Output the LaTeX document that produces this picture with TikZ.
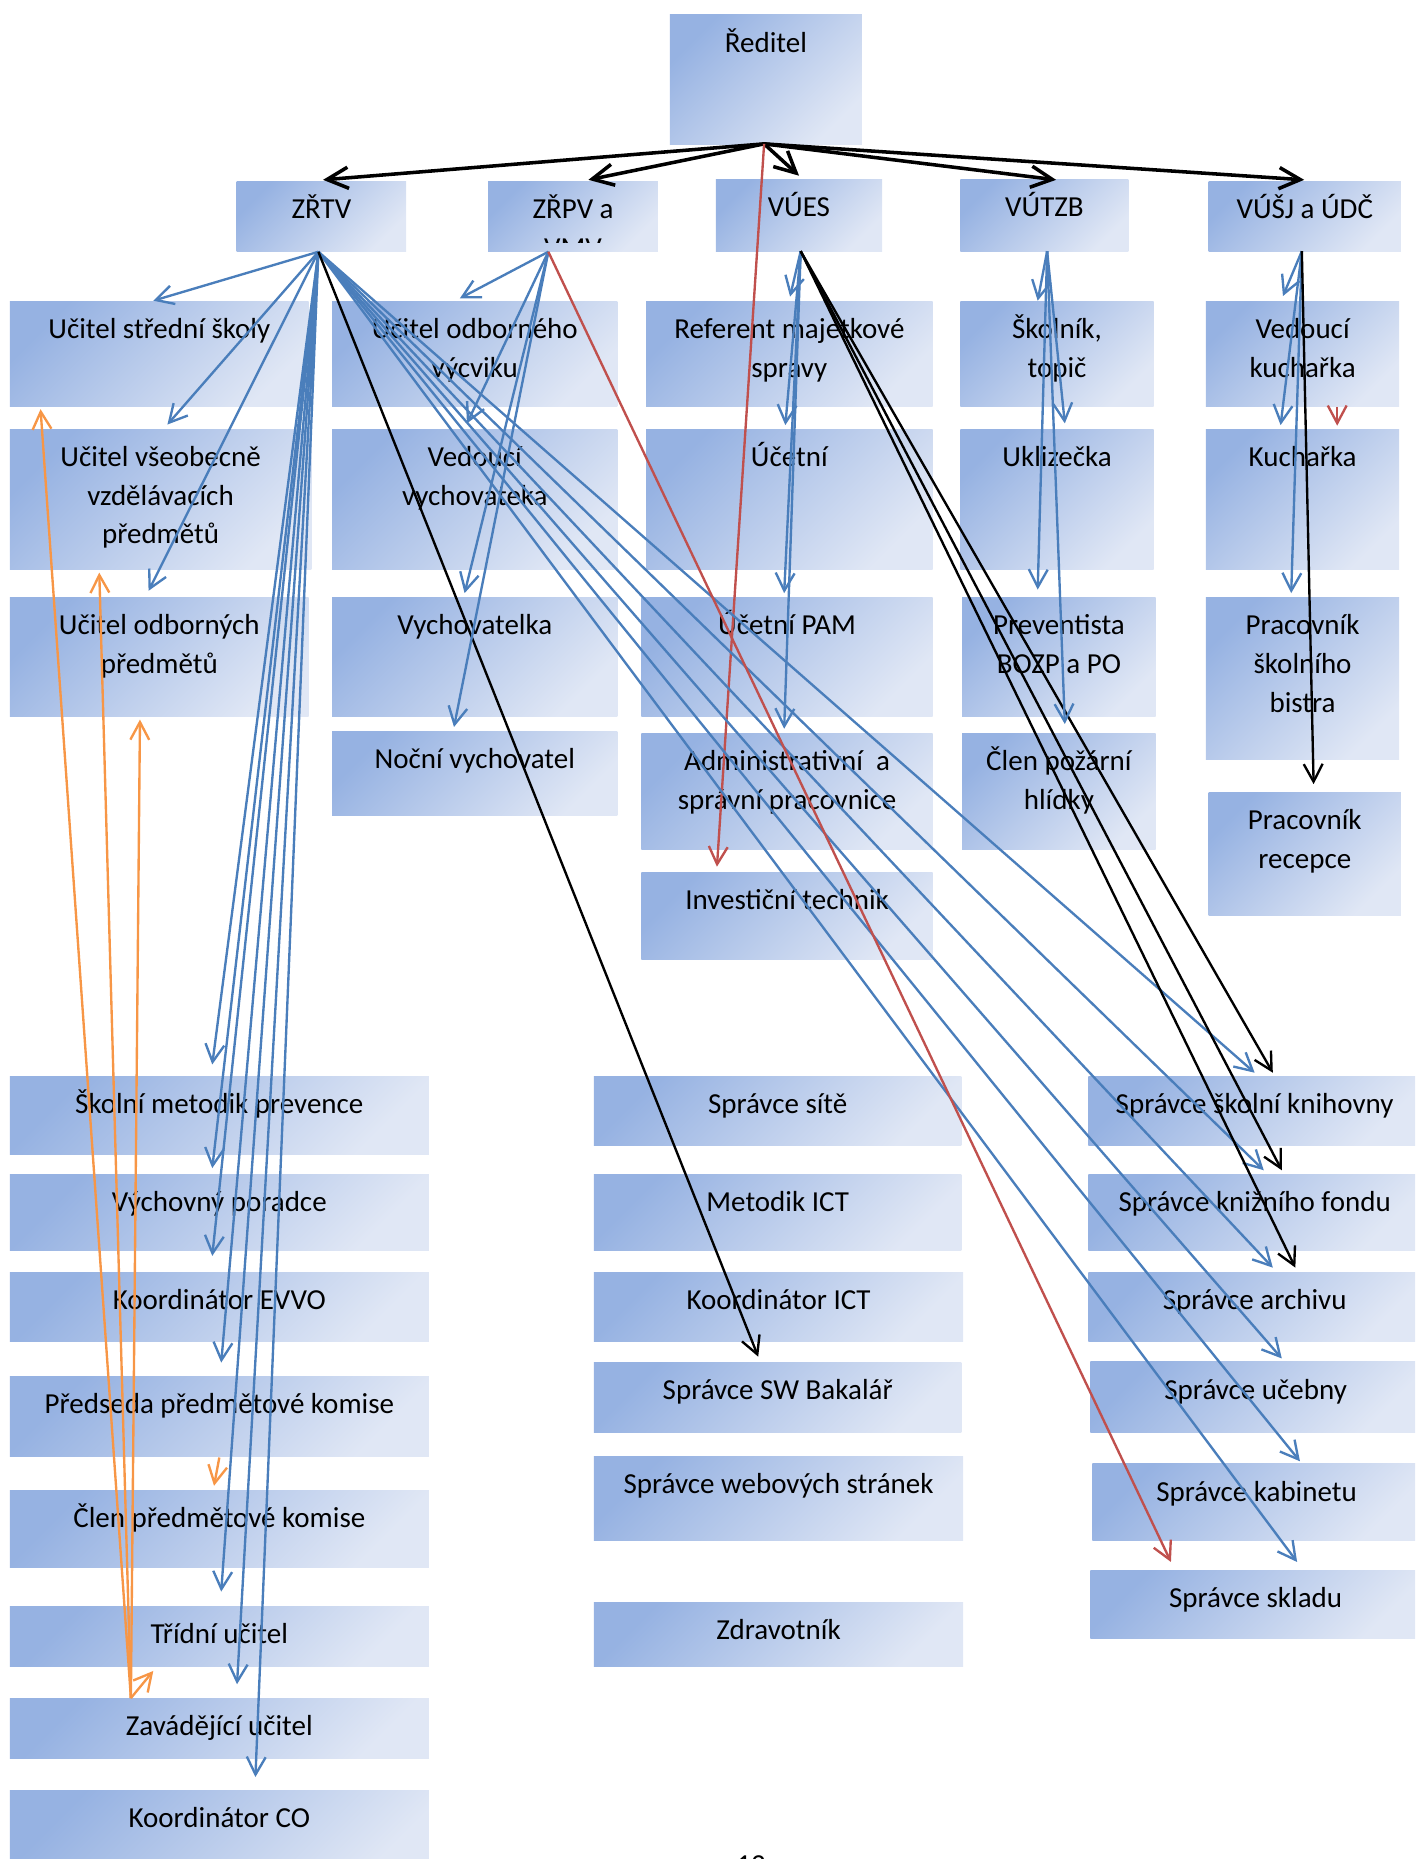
\documentclass[tikz,border=0pt]{standalone}
\usepackage{fontspec}
\setmainfont{Carlito}
\usetikzlibrary{arrows.meta,calc}
\definecolor{bxA}{RGB}{150,178,226}
\definecolor{bxB}{RGB}{224,231,245}
\definecolor{lnB}{RGB}{74,126,187}
\definecolor{lnR}{RGB}{192,80,77}
\definecolor{lnO}{RGB}{247,150,70}
\newcommand{\lblfont}{\fontsize{12.3pt}{16.5pt}\selectfont}
\tikzset{
  orgbox/.style={draw=none, inner sep=0pt, outer sep=0pt, top color=bxA, bottom color=bxB, shading angle=45, anchor=north west},
  orgtxt/.style={inner sep=0pt, outer sep=0pt, align=center, font=\lblfont, anchor=north},
  tipS/.style={-{Straight Barb[length=7.5pt,width=8pt]}},
  tipL/.style={-{Straight Barb[length=9pt,width=9pt]}},
  lnblue/.style={draw=lnB, line width=1pt, tipS},
  lnred/.style={draw=lnR, line width=1pt, tipS},
  lnorange/.style={draw=lnO, line width=1pt, tipS},
  lnblack/.style={draw=black, line width=1pt, tipS},
  lnblackthick/.style={draw=black, line width=1.5pt, tipL},
}
\newcommand{\obox}[6]{%
  \node[orgbox, minimum width={(#4-#2)*0.5pt}, minimum height={(#5-#3)*0.5pt}] (#1) at (#2,#3) {};
  \node[orgtxt] (#1-t) at ($(#1.north)+(0,8.4)$) {\strut #6};
}
\begin{document}
\begin{tikzpicture}[x=0.5pt,y=-0.5pt]
\clip (0,0) rectangle (1200,1576.5);
% top
\obox{dir}{568}{12.7}{731}{122.7}{Ředitel}
\obox{zrtv}{200.6}{153.6}{344.5}{213.3}{ZŘTV}
\node[orgbox, minimum width={(558-414)*0.5pt}, minimum height={(213.3-153.6)*0.5pt}] (zrpv) at (414,153.6) {};
\begin{scope}
  \clip (414,153.6) rectangle (558,205.5);
  \node[orgtxt] (zrpv-t) at ($(zrpv.north)+(0,8.4)$) {\strut ZŘPV a\\VMV};
\end{scope}
\obox{vues}{607}{152}{748}{213.3}{VÚES}
\obox{vutzb}{814.5}{152}{957}{213.3}{VÚTZB}
\obox{vusj}{1025}{153.6}{1188}{213.3}{VÚŠJ a ÚDČ}
% row 2
\obox{ucss}{8.4}{255.5}{261.8}{344.4}{Učitel střední školy}
\obox{ucov}{281.7}{255.5}{523.6}{344.4}{Učitel odborného\\výcviku}
\obox{ref}{548}{255.5}{790.8}{344.4}{Referent majetkové\\spravy}
\obox{skol}{814.5}{255.5}{978.3}{344.4}{Školník,\\topič}
\obox{vedk}{1022.7}{255.5}{1186.6}{344.4}{Vedoucí\\kuchařka}
% row 3
\obox{ucvv}{8.4}{363.8}{264}{483.2}{Učitel všeobecně\\vzdělávacích\\předmětů}
\obox{vedv}{281.7}{363.8}{523.6}{483.2}{Vedoucí\\vychovateka}
\obox{uce}{548}{363.8}{790.8}{483.2}{Účetní}
\obox{ukl}{814.5}{363.8}{978.3}{483.2}{Uklizečka}
\obox{kuch}{1022.7}{363.8}{1186.6}{483.2}{Kuchařka}
% row 4
\obox{ucop}{8.4}{506.4}{261.8}{607.4}{Učitel odborných\\předmětů}
\obox{vych}{281.7}{506.4}{523.6}{607.4}{Vychovatelka}
\obox{pam}{544}{506.4}{791}{607.4}{Účetní PAM}
\obox{prev}{816}{506.4}{980}{607.4}{Preventista\\BOZP a PO}
\obox{bist}{1022.7}{506.4}{1186.6}{644}{Pracovník\\školního\\bistra}
% row 5
\obox{nocni}{281.7}{620}{523.6}{691.4}{Noční vychovatel}
\obox{adm}{544}{621.8}{791}{720.2}{Administrativní\ \ a\\správní pracovnice}
\obox{clpo}{816}{621.8}{980}{720.2}{Člen požární\\hlídky}
\obox{rec}{1025}{671.7}{1188}{776}{Pracovník\\recepce}
\obox{inv}{544}{739.6}{791}{813.4}{Investiční technik}
% left column
\obox{smp}{8.4}{912.5}{363.6}{979.4}{Školní metodik prevence}
\obox{vyp}{8.4}{995.9}{363.6}{1060.7}{Výchovný poradce}
\obox{evvo}{8.4}{1078.8}{363.6}{1137.4}{Koordinátor EVVO}
\obox{pred}{8.4}{1167.2}{363.6}{1235.5}{Předseda předmětové komise}
\obox{clen}{8.4}{1263.6}{363.6}{1328.9}{Člen předmětové komise}
\obox{tu}{8.4}{1362}{363.6}{1413.6}{Třídní učitel}
\obox{zu}{8.4}{1440}{363.6}{1491.6}{Zavádějící učitel}
\obox{kco}{8.4}{1518}{363.6}{1600}{Koordinátor CO}
% middle column
\obox{ssit}{503.7}{912.5}{815.3}{971}{Správce sítě}
\obox{mict}{503.7}{995.9}{815.3}{1060.7}{Metodik ICT}
\obox{kict}{503.7}{1078.8}{816.8}{1137.4}{Koordinátor ICT}
\obox{sbak}{503.7}{1155.1}{815.3}{1215.1}{Správce SW Bakalář}
\obox{sweb}{503.7}{1234.8}{816.8}{1306.8}{Správce webových stránek}
\obox{zdr}{503.7}{1358.7}{816.8}{1413.6}{Zdravotník}
% right column
\obox{sknih}{923}{912.5}{1205}{971}{Správce školní knihovny}
\obox{skf}{923}{995.9}{1205}{1060.7}{Správce knižního fondu}
\obox{sarch}{923}{1078.8}{1205}{1137.4}{Správce archivu}
\obox{suceb}{924.7}{1155}{1205}{1215}{Správce učebny}
\obox{skab}{926.3}{1241.5}{1205}{1306.8}{Správce kabinetu}
\obox{sskl}{924.7}{1331.6}{1205}{1389.8}{Správce skladu}
% page number (cut off at the page edge, as in the reference)
\node[font=\lblfont, anchor=base, inner sep=0pt] (pgno) at (637,1590) {12};

% source points
\coordinate (s0) at (648,122);
\coordinate (sA) at (270,213.5);
\coordinate (sB) at (465,213.5);
\coordinate (sC) at (679,213);
\coordinate (sD) at (888,213);
\coordinate (sE) at (1104,213);
\coordinate (sO) at (111,1440);
% end points
\coordinate (e01) at (274,152.5);
\coordinate (e02) at (499,152.5);
\coordinate (e03) at (677.6,149);
\coordinate (e04) at (895.6,152.5);
\coordinate (e05) at (1106,152.5);
\coordinate (e06) at (608,735);
\coordinate (a01) at (130,255);
\coordinate (a02) at (142,360);
\coordinate (a03) at (126,501);
\coordinate (a04) at (180,902.7);
\coordinate (a05) at (180,990.6);
\coordinate (a06) at (180,1065);
\coordinate (a07) at (187.6,1155.5);
\coordinate (a08) at (187.6,1349.7);
\coordinate (a09) at (201,1428.3);
\coordinate (a10) at (216.6,1507);
\coordinate (a11) at (1064,909.7);
\coordinate (a12) at (1071.7,992.4);
\coordinate (a13) at (1079.4,1075);
\coordinate (a14) at (1087,1152);
\coordinate (a15) at (1102.4,1239.2);
\coordinate (a16) at (1100,1324.6);
\coordinate (a17) at (643,1150.5);
\coordinate (b01) at (390,253);
\coordinate (b02) at (396,359);
\coordinate (b03) at (394,503);
\coordinate (b04) at (385,616.5);
\coordinate (b05) at (993,1324.6);
\coordinate (c01) at (670,251.5);
\coordinate (c02) at (666,360.5);
\coordinate (c03) at (665,503);
\coordinate (c04) at (665,618);
\coordinate (c05) at (1079.4,909.7);
\coordinate (c06) at (1087,992.4);
\coordinate (c07) at (1098.5,1075);
\coordinate (d01) at (880,255);
\coordinate (d02) at (903,359);
\coordinate (d03) at (880,500);
\coordinate (d04) at (903,614);
\coordinate (f01) at (1088,251);
\coordinate (f02) at (1086,360.5);
\coordinate (f03) at (1095,503);
\coordinate (f04) at (1114,665);
\coordinate (f05) at (1134,345);
\coordinate (f06) at (1134,361);
\coordinate (o01) at (34.4,347);
\coordinate (o02) at (84.2,485.6);
\coordinate (o03) at (118.7,610.2);
\coordinate (o04) at (130,1417);
\coordinate (o05) at (186,1236);
\coordinate (o06) at (181.5,1260);

% Ředitel
\foreach \e in {e01,e02,e03,e04,e05} \draw[lnblackthick] (s0) -- (\e);
\draw[lnred] (s0) -- (e06);
% ZŘTV
\foreach \e in {a01,a02,a03,a04,a05,a06,a07,a08,a09,a10,a11,a12,a13,a14,a15,a16} \draw[lnblue] (sA) -- (\e);
\draw[lnblack] (sA) -- (a17);
% ZŘPV
\foreach \e in {b01,b02,b03,b04} \draw[lnblue] (sB) -- (\e);
\draw[lnred] (sB) -- (b05);
% VÚES
\foreach \e in {c01,c02,c03,c04} \draw[lnblue] (sC) -- (\e);
\foreach \e in {c05,c06,c07} \draw[lnblack] (sC) -- (\e);
% VÚTZB
\foreach \e in {d01,d02,d03,d04} \draw[lnblue] (sD) -- (\e);
% VÚŠJ
\foreach \e in {f01,f02,f03} \draw[lnblue] (sE) -- (\e);
\draw[lnblack] (sE) -- (f04);
\draw[lnred] (f05) -- (f06);
% orange
\foreach \e in {o01,o02,o03,o04} \draw[lnorange] (sO) -- (\e);
\draw[lnorange] (o05) -- (o06);
\end{tikzpicture}
\end{document}
